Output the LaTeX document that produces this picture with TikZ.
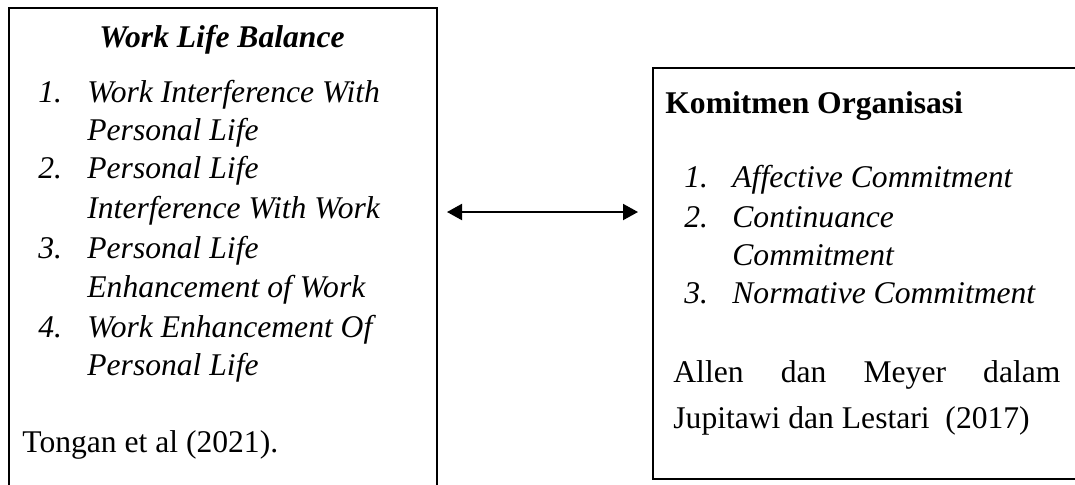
\documentclass[tikz,border=0pt]{standalone}
\usepackage{fontspec}
\setmainfont{Liberation Serif}[
  UprightFont=*,
  BoldFont=* Bold,
  ItalicFont=* Italic,
  BoldItalicFont=* Bold Italic]
\usetikzlibrary{shapes,positioning,arrows,arrows.meta,calc}

\begin{document}
\begin{tikzpicture}[
    x=0.5pt, y=-0.5pt,
    box/.style={draw, line width=1pt, rectangle, anchor=north west},
    txt/.style={anchor=base west, inner sep=0pt, font=\fontsize{15.8}{19}\selectfont},
    item/.style={txt, font=\fontsize{15.8}{19}\selectfont\itshape},
    head/.style={txt, font=\fontsize{15.8}{19}\selectfont\bfseries},
    link/.style={{Triangle[length=7.5pt,width=8pt]}-{Triangle[length=7.5pt,width=8pt]}, line width=1pt},
    ]
    \useasboundingbox (0,0) rectangle (1075,484);
    \clip (0,0) rectangle (1075,484);

    % boxes
    \node[box, minimum width=214pt, minimum height=246.5pt] (wlb) at (8,7) {};
    \node[box, minimum width=219pt, minimum height=205.5pt] (ko) at (652,67) {};

    % work life balance
    \node[head, anchor=base, font=\fontsize{15.8}{19}\selectfont\bfseries\itshape] (wlbtitle) at (222,47) {Work Life Balance};
    \node[item] (n1) at (38,102) {1.};
    \node[item] (i1a) at (87,102) {Work Interference With};
    \node[item] (i1b) at (87,140) {Personal Life};
    \node[item] (n2) at (38,178) {2.};
    \node[item] (i2a) at (87,178) {Personal Life};
    \node[item] (i2b) at (87,218) {Interference With Work};
    \node[item] (n3) at (38,258) {3.};
    \node[item] (i3a) at (87,258) {Personal Life};
    \node[item] (i3b) at (87,297) {Enhancement of Work};
    \node[item] (n4) at (38,337) {4.};
    \node[item] (i4a) at (87,337) {Work Enhancement Of};
    \node[item] (i4b) at (87,375) {Personal Life};
    \node[txt] (wlbsrc) at (22,452) {Tongan et al (2021).};

    % komitmen organisasi
    \node[head] (kotitle) at (665,113) {Komitmen Organisasi};
    \node[item] (m1) at (684,187) {1.};
    \node[item] (k1) at (732,187) {Affective Commitment};
    \node[item] (m2) at (684,227) {2.};
    \node[item] (k2a) at (732,227) {Continuance};
    \node[item] (k2b) at (732,265) {Commitment};
    \node[item] (m3) at (684,303) {3.};
    \node[item] (k3) at (732,303) {Normative Commitment};
    \node[txt] (kosrca) at (673,382) {\hbox to 193.5pt{Allen\hfill dan\hfill Meyer\hfill dalam}};
    \node[txt] (kosrcb) at (673,428) {Jupitawi dan Lestari~ (2017)};

    \coordinate (mid) at (0,212);
    \draw[link] ([xshift=4.5pt]wlb.east |- mid) -- ([xshift=-7pt]ko.west |- mid);

\end{tikzpicture}
\end{document}
